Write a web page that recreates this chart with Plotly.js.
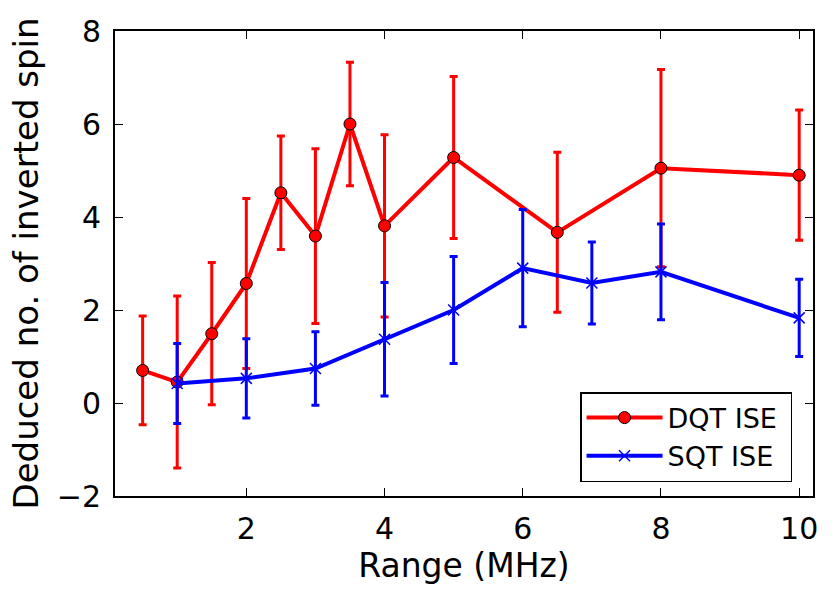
<!DOCTYPE html>
<html>
<head>
<meta charset="utf-8">
<script src="https://cdn.plot.ly/plotly-3.0.1.min.js"></script>
<style>
  html, body { margin: 0; padding: 0; background: #fff; }
  #chart { width: 836px; height: 595px; }
</style>
</head>
<body>
<div id="chart"></div>
<script>
// Double-quantum (DQT) and single-quantum (SQT) ISE results vs sweep range
const dqtRange = [0.5, 1, 1.5, 2, 2.5, 3, 3.5, 4, 5, 6.5, 8, 10];
const dqtSpin  = [0.70, 0.45, 1.49, 2.57, 4.52, 3.59, 6.00, 3.81, 5.28, 3.67, 5.05, 4.90];
const dqtErr   = [1.17, 1.85, 1.53, 1.83, 1.22, 1.88, 1.33, 1.96, 1.74, 1.72, 2.12, 1.40];

const sqtRange = [1, 2, 3, 4, 5, 6, 7, 8, 10];
const sqtSpin  = [0.42, 0.53, 0.74, 1.37, 2.00, 2.90, 2.58, 2.82, 1.83];
const sqtErr   = [0.86, 0.85, 0.79, 1.22, 1.15, 1.26, 0.88, 1.03, 0.83];

const xTicks = [2, 4, 6, 8, 10];
const yTicks = [-2, 0, 2, 4, 6, 8];

const FONT = "DejaVu Sans, sans-serif";

const traces = [
  {
    name: "DQT ISE\u00a0",
    x: dqtRange, y: dqtSpin,
    type: "scatter", mode: "lines+markers",
    line: { color: "#ff0000", width: 4 },
    marker: { symbol: "circle", size: 12, color: "#ff0000",
              line: { color: "#000000", width: 1 } },
    error_y: { type: "data", array: dqtErr, visible: true,
               color: "#ff0000", thickness: 3, width: 4 }
  },
  {
    name: "SQT ISE\u00a0",
    x: sqtRange, y: sqtSpin,
    type: "scatter", mode: "lines+markers",
    line: { color: "#0000ff", width: 4 },
    marker: { symbol: "x-thin-open", size: 11, color: "#0000ff",
              line: { color: "#0000ff", width: 1.5 } },
    error_y: { type: "data", array: sqtErr, visible: true,
               color: "#0000ff", thickness: 3, width: 4 }
  }
];

const axisCommon = {
  showgrid: false, zeroline: false,
  showline: true, linecolor: "#000", linewidth: 2, mirror: "ticks",
  ticks: "inside", ticklen: 8, tickwidth: 1, tickcolor: "#000",
  tickfont: { family: FONT, size: 30, color: "#000" },
  automargin: false
};

const layout = {
  width: 836, height: 595,
  paper_bgcolor: "#fff", plot_bgcolor: "#fff",
  margin: { l: 115, r: 23, t: 31, b: 99 },
  showlegend: true,
  legend: {
    x: 0.97, y: 0.03, xanchor: "right", yanchor: "bottom",
    bgcolor: "#fff", bordercolor: "#000", borderwidth: 1.5,
    font: { family: FONT, size: 27, color: "#000" },
    itemwidth: 76
  },
  xaxis: Object.assign({}, axisCommon, {
    range: [0.1, 10.2],
    tickmode: "array", tickvals: xTicks, ticktext: xTicks.map(String),
    ticklabelstandoff: 5,
    title: { text: "Range (MHz)", font: { family: FONT, size: 33, color: "#000" }, standoff: 6 }
  }),
  yaxis: Object.assign({}, axisCommon, {
    range: [-2, 8],
    tickmode: "array", tickvals: yTicks, ticktext: yTicks.map(v => v < 0 ? "\u2212" + Math.abs(v) : String(v)),
    ticklabelstandoff: 6,
    title: { text: "Deduced no. of inverted spin", font: { family: FONT, size: 34, color: "#000" }, standoff: 8 }
  })
};

Plotly.newPlot("chart", traces, layout, { displayModeBar: false, staticPlot: true });
</script>
</body>
</html>
